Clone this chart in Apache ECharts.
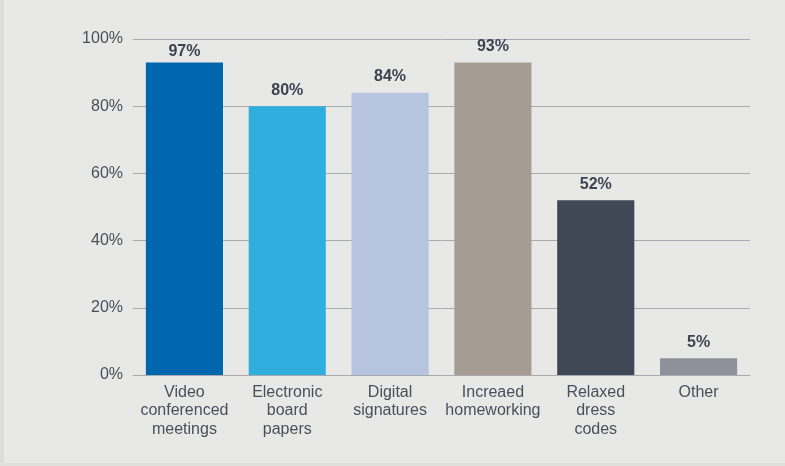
<!DOCTYPE html>
<html><head><meta charset="utf-8">
<script src="https://cdn.jsdelivr.net/npm/echarts@6/dist/echarts.min.js"></script>
<style>html,body{margin:0;padding:0;background:#e8e8e6;}#c{width:785px;height:466px;}</style>
</head><body><div id="c"></div>
<script>
const categories = ["Video\nconferenced\nmeetings", "Electronic\nboard\npapers", "Digital\nsignatures", "Increaed\nhomeworking", "Relaxed\ndress\ncodes", "Other"];
const barHeights = [93, 80, 84, 93, 52, 5];
const valueLabels = ["97%", "80%", "84%", "93%", "52%", "5%"];
const colors = ["#0067ae", "#30aedd", "#b6c4e0", "#a59d93", "#414855", "#8e9199"];
const yTicks = [0, 20, 40, 60, 80, 100];

const FONT = 'Liberation Sans, Arial, sans-serif';
const chart = echarts.init(document.getElementById('c'), null, {renderer: 'canvas'});
chart.setOption({
  backgroundColor: '#e8e8e6',
  animation: false,
  graphic: [
    {type: 'rect', left: 0, top: 0, z: -10, shape: {width: 4, height: 466}, style: {fill: '#dcdcd9'}},
    {type: 'rect', left: 0, top: 463, z: -10, shape: {width: 785, height: 3}, style: {fill: '#dfdfdd'}}
  ],
  grid: {left: 133, right: 35, top: 39, bottom: 91, containLabel: false},
  xAxis: {
    type: 'category', data: categories,
    axisLine: {lineStyle: {color: '#a9aab0', width: 1}},
    axisTick: {show: false},
    axisLabel: {color: '#4a4f5a', fontSize: 16, fontFamily: FONT, lineHeight: 18.5, margin: 8, interval: 0}
  },
  yAxis: {
    type: 'value', min: 0, max: 100, interval: 20,
    axisLine: {show: false}, axisTick: {show: false},
    splitLine: {lineStyle: {color: '#a9aab0', width: 1}},
    axisLabel: {color: '#4a4f5a', fontSize: 16, fontFamily: FONT, margin: 10,
      formatter: v => yTicks.includes(v) ? v + '%' : ''}
  },
  series: [{
    type: 'bar', barCategoryGap: '25%',
    data: barHeights.map((v, i) => ({value: v, itemStyle: {color: colors[i]},
      label: i === 0 ? {distance: 3} : undefined})),
    label: {show: true, position: 'top', distance: 8, color: '#3d4350', fontSize: 16, fontWeight: 'bold',
      fontFamily: FONT, formatter: p => valueLabels[p.dataIndex]}
  }]
});
</script></body></html>
